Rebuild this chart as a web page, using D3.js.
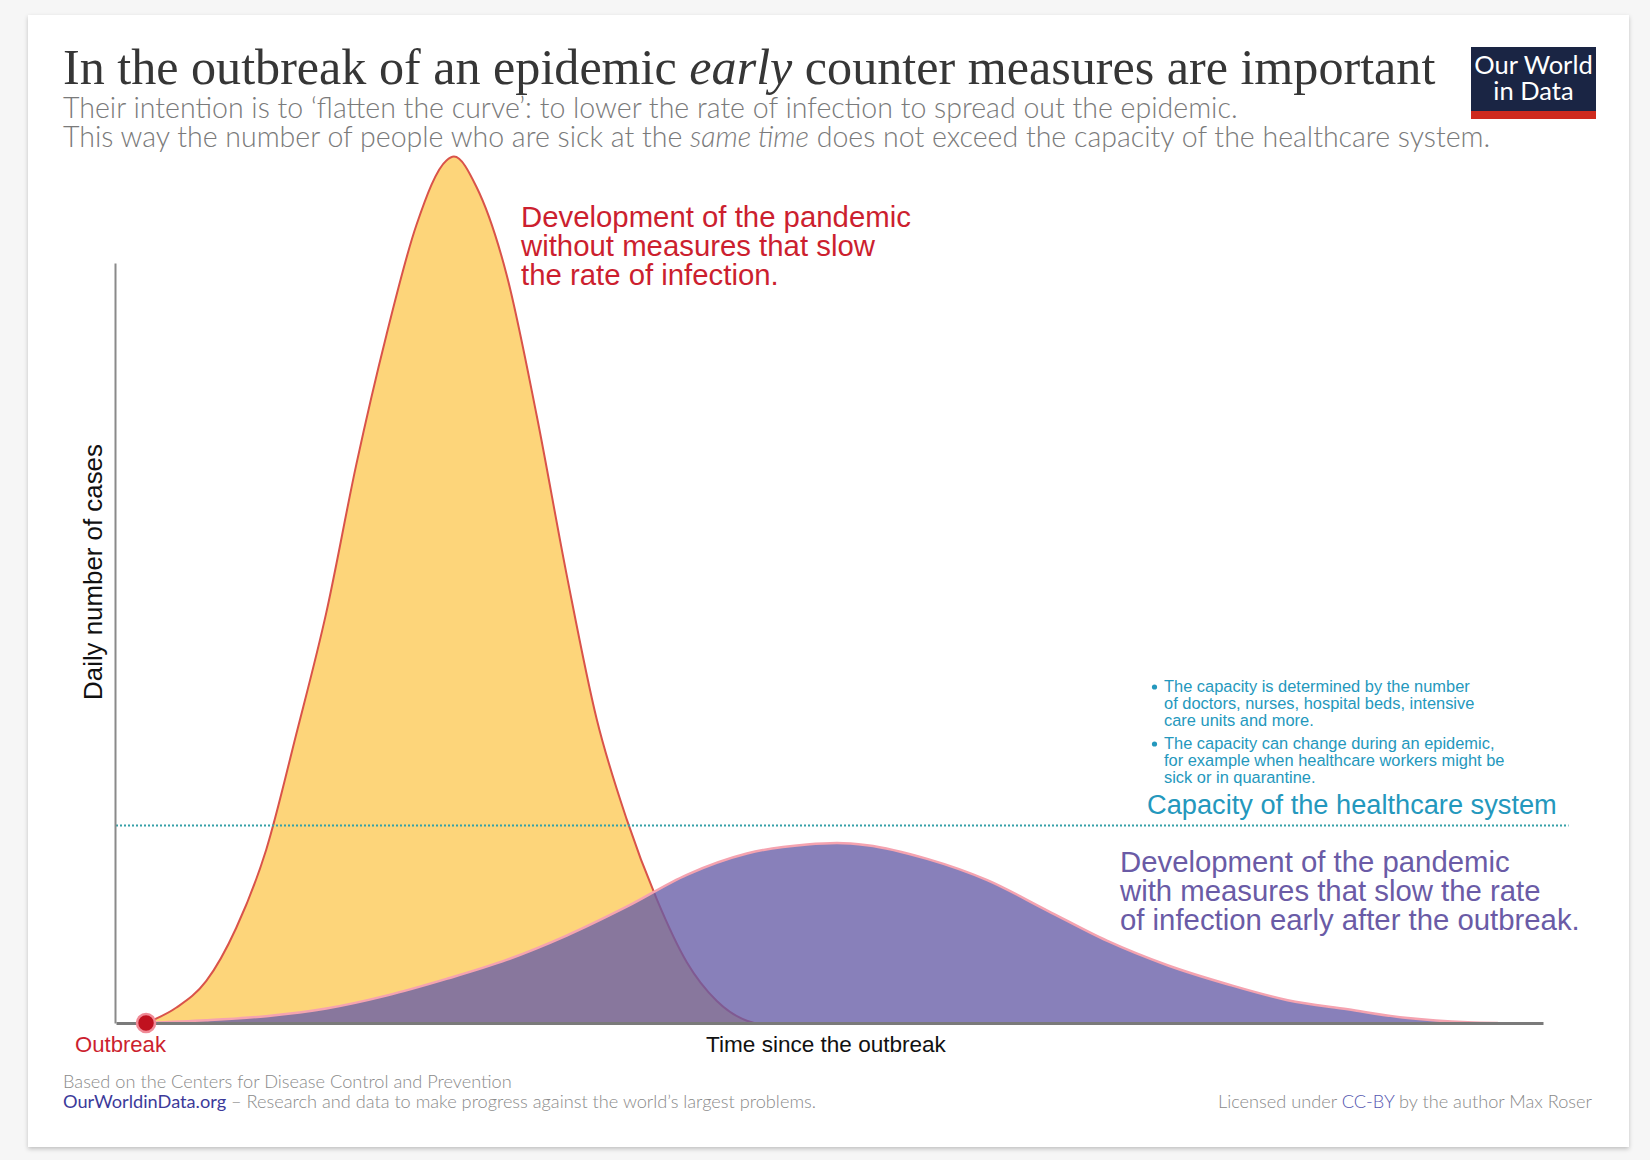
<!DOCTYPE html>
<html>
<head>
<meta charset="utf-8">
<script src="https://cdn.jsdelivr.net/npm/d3@7"></script>
<style>
  body { margin: 0; background: #f6f6f6; overflow: hidden; }
  svg { display: block; }
</style>
</head>
<body>
<div id="chart"></div>
<script>
// ---------- data (arbitrary units) ----------
// time since the outbreak, and daily number of cases, without measures
let timeNoMeasures  = [0, 2, 4, 6, 8, 10, 12, 14, 16, 18, 20, 20.5, 22, 24, 26, 28, 30, 32, 34, 36, 38, 40, 40.5];
let casesNoMeasures = [0, 2.0, 5.5, 12.5, 22.8, 38, 54, 73.5, 90.5, 105, 113.5, 114, 110, 98.5, 80, 59, 40, 26.8, 16.3, 8, 2.9, 0.3, 0];

// ... and with early measures that slow the rate of infection
let timeMeasures  = [0, 4, 8, 12, 16, 20, 24, 28, 32, 36, 40, 44, 46, 48, 52, 56, 60, 64, 68, 72, 76, 80, 84, 88, 90];
let casesMeasures = [0, 0.35, 0.9, 1.9, 3.6, 5.8, 8.3, 11.5, 15.3, 19.5, 22.3, 23.5, 23.7, 23.4, 21.6, 18.8, 14.8, 10.8, 7.6, 5.1, 3.0, 1.8, 0.65, 0.1, 0];

let capacity = 26;        // capacity of the healthcare system
let outbreakTime = 0;
let timeDomain = [-2, 93];
let casesDomain = [0, 100];

// ---------- texts ----------
let titleParts = [["In the outbreak of an epidemic ", "normal"], ["early", "italic"], [" counter measures are important", "normal"]];
let subtitleLine1 = [["Their intention is to \u2018flatten the curve\u2019: to lower the rate of infection to spread out the epidemic.", "normal"]];
let subtitleLine2 = [["This way the number of people who are sick at the ", "normal"], ["same time", "italic"], [" does not exceed the capacity of the healthcare system.", "normal"]];
let noMeasuresLabel = ["Development of the pandemic", "without measures that slow", "the rate of infection."];
let measuresLabel = ["Development of the pandemic", "with measures that slow the rate", "of infection early after the outbreak."];
let capacityLabel = "Capacity of the healthcare system";
let capacityNotes = [
  ["The capacity is determined by the number", "of doctors, nurses, hospital beds, intensive", "care units and more."],
  ["The capacity can change during an epidemic,", "for example when healthcare workers might be", "sick or in quarantine."]
];
let yLabel = "Daily number of cases";
let xLabel = "Time since the outbreak";
let outbreakLabel = "Outbreak";
let logoLines = ["Our World", "in Data"];

// ---------- specs ----------
let width = 1650, height = 1160;
let plotLeft = 116, plotRight = 1543, plotBottom = 1023, plotTop = 263;
let sans = "'Liberation Sans', Arial, Helvetica, sans-serif";
let lato = "Lato, 'Noto Sans', sans-serif";

// helper: scale the font size so that a text gets a given width
function fitWidth(sel, target) {
  let fs = parseFloat(sel.attr("font-size"));
  let len = sel.node().getComputedTextLength();
  sel.attr("font-size", fs * target / len);
  return fs * target / len;
}

let svg = d3.select("#chart").append("svg")
  .attr("width", width)
  .attr("height", height);

// card with a soft shadow
let defs = svg.append("defs");
let shadow = defs.append("filter").attr("id", "shadow").attr("x", "-5%").attr("y", "-5%").attr("width", "110%").attr("height", "110%");
shadow.append("feDropShadow").attr("dx", 0).attr("dy", 2).attr("stdDeviation", 2).attr("flood-color", "#000").attr("flood-opacity", 0.22);

svg.append("rect").attr("width", width).attr("height", height).attr("fill", "#f6f6f6");
svg.append("rect")
  .attr("x", 28).attr("y", 15).attr("width", 1601).attr("height", 1132)
  .attr("fill", "#fff").attr("filter", "url(#shadow)");

// ---------- title & subtitle ----------
function partsText(parts, x, y, attrs) {
  let t = svg.append("text").attr("x", x).attr("y", y);
  Object.entries(attrs).forEach(([k, v]) => t.attr(k, v));
  parts.forEach(p => t.append("tspan").attr("font-style", p[1]).text(p[0]));
  return t;
}

let title = partsText(titleParts, 63, 84, {"font-family": "'Liberation Serif', 'DejaVu Serif', serif", "font-size": 46, "fill": "#363636"});
fitWidth(title, 1373);

let sub2 = partsText(subtitleLine2, 63, 147, {"font-family": lato, "font-weight": 300, "font-size": 25, "fill": "#7a7a7a"});
let subSize = fitWidth(sub2, 1428);
partsText(subtitleLine1, 63, 118, {"font-family": lato, "font-weight": 300, "font-size": subSize, "fill": "#7a7a7a"});

// logo
let logo = svg.append("g");
logo.append("rect").attr("x", 1471).attr("y", 47).attr("width", 125).attr("height", 64).attr("fill", "#1a2544");
logo.append("rect").attr("x", 1471).attr("y", 111).attr("width", 125).attr("height", 8).attr("fill", "#ce2a1e");
logo.selectAll("text").data(logoLines).enter().append("text")
  .attr("x", 1533.5)
  .attr("y", (d, i) => 74 + i * 26)
  .attr("text-anchor", "middle")
  .attr("font-family", lato)
  .attr("font-size", 25.5)
  .attr("fill", "#fff")
  .text(d => d);

// ---------- scales ----------
let x = d3.scaleLinear().domain(timeDomain).range([plotLeft, plotRight]);
let y = d3.scaleLinear().domain(casesDomain).range([plotBottom, plotTop]);

let noMeasures = timeNoMeasures.map((t, i) => ({t: t, v: casesNoMeasures[i]}));
let measures = timeMeasures.map((t, i) => ({t: t, v: casesMeasures[i]}));

let area = d3.area().x(d => x(d.t)).y0(y(0)).y1(d => y(d.v)).curve(d3.curveMonotoneX);
let line = d3.line().x(d => x(d.t)).y(d => y(d.v)).curve(d3.curveMonotoneX);

let plot = svg.append("g").attr("id", "curves");

// without measures (yellow)
plot.append("path").datum(noMeasures).attr("d", area).attr("fill", "#fdd57a");
plot.append("path").datum(noMeasures).attr("d", line)
  .attr("fill", "none").attr("stroke", "#d9534a").attr("stroke-width", 2);

// with measures (purple, laid over the yellow one)
plot.append("path").datum(measures).attr("d", area).attr("fill", "#675ca6").attr("fill-opacity", 0.78);
plot.append("path").datum(measures).attr("d", line)
  .attr("fill", "none").attr("stroke", "#f5a3b0").attr("stroke-width", 2.5);

// capacity line
svg.append("line")
  .attr("x1", x.range()[0]).attr("x2", x(94.7))
  .attr("y1", y(capacity)).attr("y2", y(capacity))
  .attr("stroke", "#34a0a8").attr("stroke-width", 2).attr("stroke-dasharray", "2,2");

// ---------- axes (no ticks, only the lines) ----------
let yAxis = svg.append("g").attr("transform", `translate(${plotLeft - 1},0)`)
  .call(d3.axisLeft(y).tickValues([]).tickSizeOuter(0));
yAxis.select(".domain").attr("stroke", "#8a8a8a").attr("stroke-width", 2);

let xAxis = svg.append("g").attr("transform", `translate(0,${plotBottom})`)
  .call(d3.axisBottom(x).tickValues([]).tickSizeOuter(0));
xAxis.select(".domain").attr("stroke", "#7a7a7a").attr("stroke-width", 3);

// outbreak dot
svg.append("circle")
  .attr("cx", x(outbreakTime)).attr("cy", y(0)).attr("r", 9)
  .attr("fill", "#c0111f").attr("stroke", "#f08a96").attr("stroke-width", 2.5);

// axis labels
let yl = svg.append("text")
  .attr("transform", "translate(102,572) rotate(-90)")
  .attr("text-anchor", "middle")
  .attr("font-family", sans).attr("font-size", 24).attr("fill", "#111")
  .text(yLabel);
fitWidth(yl, 256);

let xl = svg.append("text")
  .attr("x", 826).attr("y", 1052)
  .attr("text-anchor", "middle")
  .attr("font-family", sans).attr("font-size", 22).attr("fill", "#111")
  .text(xLabel);
fitWidth(xl, 240);

let ol = svg.append("text")
  .attr("x", 75).attr("y", 1052)
  .attr("font-family", sans).attr("font-size", 21).attr("fill", "#cc1f2f")
  .text(outbreakLabel);
fitWidth(ol, 91);

// ---------- annotations ----------
function block(lines, x0, y0, dy, color, size) {
  return svg.append("g").selectAll("text").data(lines).enter().append("text")
    .attr("x", x0).attr("y", (d, i) => y0 + i * dy)
    .attr("font-family", sans).attr("font-size", size).attr("fill", color)
    .text(d => d);
}
function fitBlock(texts, refIndex, refWidth) {
  let fs = fitWidth(d3.select(texts.nodes()[refIndex]), refWidth);
  texts.attr("font-size", fs);
  return fs;
}

fitBlock(block(noMeasuresLabel, 521, 227, 29, "#cc1f2f", 26), 0, 390);
fitBlock(block(measuresLabel, 1120, 872, 29, "#6a5ba6", 26), 2, 460);

let cl = svg.append("text")
  .attr("x", 1147).attr("y", 814)
  .attr("font-family", sans).attr("font-size", 27).attr("fill", "#2498bd")
  .text(capacityLabel);
fitWidth(cl, 410);

// bullet notes about the capacity (one size for both)
let noteSize = 16;
capacityNotes.forEach((lines, k) => {
  let y0 = 692 + k * 57;
  svg.append("circle").attr("cx", 1154.5).attr("cy", y0 - 5).attr("r", 2.6).attr("fill", "#2498bd");
  let texts = block(lines, 1164, y0, 17, "#2498bd", noteSize);
  if (k === 0) noteSize = fitBlock(texts, 0, 306);
  else texts.attr("font-size", noteSize);
});

// ---------- footer ----------
let f1 = svg.append("text")
  .attr("x", 63).attr("y", 1088)
  .attr("font-family", lato).attr("font-weight", 300).attr("font-size", 16).attr("fill", "#8a8a8a")
  .text("Based on the Centers for Disease Control and Prevention");
let footSize = fitWidth(f1, 449);

let f2 = svg.append("text")
  .attr("x", 63).attr("y", 1108)
  .attr("font-family", lato).attr("font-weight", 300).attr("font-size", footSize).attr("fill", "#8a8a8a");
f2.append("tspan").attr("fill", "#3c3a9a").attr("font-weight", 400).text("OurWorldinData.org");
f2.append("tspan").text(" \u2013 Research and data to make progress against the world\u2019s largest problems.");

let f3 = svg.append("text")
  .attr("x", 1592).attr("y", 1108)
  .attr("text-anchor", "end")
  .attr("font-family", lato).attr("font-weight", 300).attr("font-size", footSize).attr("fill", "#8a8a8a");
f3.append("tspan").text("Licensed under ");
f3.append("tspan").attr("fill", "#5557b0").text("CC-BY");
f3.append("tspan").text(" by the author Max Roser");
</script>
</body>
</html>
